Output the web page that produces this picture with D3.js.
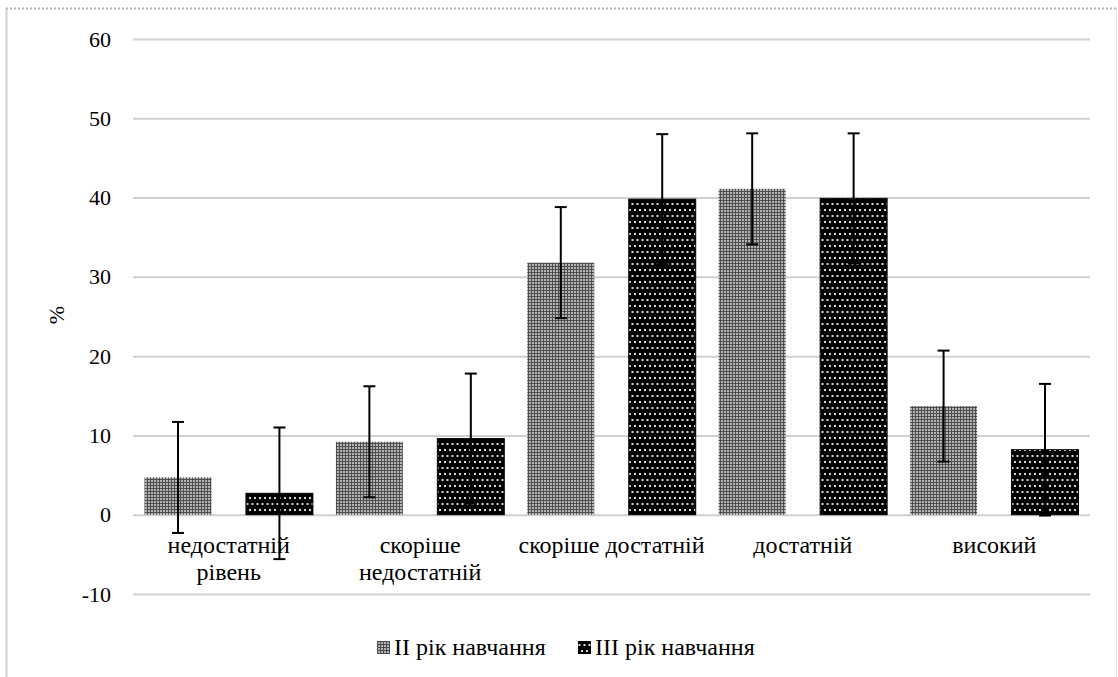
<!DOCTYPE html>
<html>
<head>
<meta charset="utf-8">
<script src="https://cdn.jsdelivr.net/npm/d3@7"></script>
<style>
  body { margin: 0; background: #fff; }
  svg { display: block; }
  .grid line { stroke: #d0d0d0; stroke-width: 2px; }
  .grid .domain { display: none; }
</style>
</head>
<body>
<div id="chart"></div>
<script>
var categories = [["недостатній", "рівень"], ["скоріше", "недостатній"], ["скоріше достатній"], ["достатній"], ["високий"]];
var seriesNames = ["II рік навчання", "III рік навчання"];
var valuesII  = [4.7, 9.2, 31.8, 41.1, 13.7];
var valuesIII = [2.7, 9.6, 39.8, 39.9, 8.2];
var errII  = [7, 7, 7, 7, 7];
var errIII = [8.3, 8.2, 8.2, 8.2, 8.3];
var yTicks = [-10, 0, 10, 20, 30, 40, 50, 60];

var fontFam = "'Liberation Serif', 'DejaVu Serif', serif";

var margin = {top: 39, right: 28, bottom: 83, left: 133},
  totalW = 1118, totalH = 677,
  width = totalW - margin.left - margin.right,
  height = totalH - margin.top - margin.bottom;

var svg = d3.select("#chart").append("svg")
  .attr("width", totalW)
  .attr("height", totalH)
  .attr("font-family", fontFam);

// outer frame
svg.append("line").attr("x1", 6.5).attr("x2", 6.5).attr("y1", 8).attr("y2", totalH)
  .style("stroke", "#cfcfcf").style("stroke-width", "2px");
svg.append("line").attr("x1", 1116.5).attr("x2", 1116.5).attr("y1", 8).attr("y2", totalH)
  .style("stroke", "#e4e4e4").style("stroke-width", "1px");
svg.append("line").attr("x1", 6).attr("x2", 1117).attr("y1", 8.5).attr("y2", 8.5)
  .style("stroke", "#b8b8b8").style("stroke-width", "2px").style("stroke-dasharray", "2,2");

var defs = svg.append("defs");

// mid-gray grid pattern for II
var p1 = defs.append("pattern")
  .attr("id", "patII").attr("patternUnits", "userSpaceOnUse")
  .attr("width", 3).attr("height", 3);
p1.append("rect").attr("width", 3).attr("height", 3).attr("fill", "#4e4e4e");
p1.append("rect").attr("x", 0).attr("y", 0).attr("width", 2).attr("height", 2).attr("fill", "#b4b4b4");

// black with white dots for III
var p2 = defs.append("pattern")
  .attr("id", "patIII").attr("patternUnits", "userSpaceOnUse")
  .attr("width", 5).attr("height", 12);
p2.append("rect").attr("width", 5).attr("height", 12).attr("fill", "#000");
p2.append("rect").attr("x", 1).attr("y", 2).attr("width", 2).attr("height", 2).attr("fill", "#d8d8d8");
p2.append("rect").attr("x", 3.5).attr("y", 8).attr("width", 2).attr("height", 2).attr("fill", "#d8d8d8");
p2.append("rect").attr("x", -1.5).attr("y", 8).attr("width", 2).attr("height", 2).attr("fill", "#d8d8d8");

var g = svg.append("g")
  .attr("transform", "translate(" + margin.left + "," + margin.top + ")");

var x0 = d3.scaleBand()
  .domain(d3.range(categories.length))
  .range([0, width])
  .paddingInner(0)
  .paddingOuter(0);

var x1 = d3.scaleBand()
  .domain([0, 1])
  .range([11.5, x0.bandwidth() - 11.5])
  .paddingInner(0.34);

var y = d3.scaleLinear()
  .domain([-10, 60])
  .range([height, 0]);

g.append("g")
  .attr("class", "grid")
  .call(d3.axisLeft(y).tickValues(yTicks).tickSize(-width).tickFormat(""));

var yAxis = g.append("g")
  .call(d3.axisLeft(y).tickValues(yTicks).tickSize(0).tickPadding(22)
    .tickFormat(function(d) { return String(d); }));
yAxis.select(".domain").remove();
yAxis.attr("font-family", fontFam).attr("font-size", null);
yAxis.selectAll("text")
  .style("font-size", "22px")
  .style("fill", "#000");

svg.append("text")
  .attr("transform", "translate(64,315) rotate(-90)")
  .attr("text-anchor", "middle")
  .style("font-size", "22px")
  .text("%");

var series = [
  {name: seriesNames[0], values: valuesII, err: errII, fill: "url(#patII)", stroke: "none"},
  {name: seriesNames[1], values: valuesIII, err: errIII, fill: "url(#patIII)", stroke: "#000"}
];

series.forEach(function(s, si) {
  var grp = g.append("g").attr("class", "series-" + si);
  grp.selectAll("rect")
    .data(s.values)
    .enter().append("rect")
    .attr("x", function(d, i) { return x0(i) + x1(si); })
    .attr("y", function(d) { return y(Math.max(d, 0)); })
    .attr("width", x1.bandwidth())
    .attr("height", function(d) { return Math.abs(y(d) - y(0)); })
    .attr("fill", s.fill)
    .attr("stroke", s.stroke)
    .attr("stroke-width", 1);
});

// error bars
series.forEach(function(s, si) {
  var eb = g.append("g").attr("class", "err-" + si);
  s.values.forEach(function(v, i) {
    var cx = x0(i) + x1(si) + x1.bandwidth() / 2;
    var lo = y(v - s.err[i]), hi = y(v + s.err[i]);
    eb.append("line").attr("x1", cx).attr("x2", cx).attr("y1", lo).attr("y2", hi)
      .style("stroke", "#000").style("stroke-width", "2px");
    eb.append("line").attr("x1", cx - 6).attr("x2", cx + 6).attr("y1", hi).attr("y2", hi)
      .style("stroke", "#000").style("stroke-width", "2px");
    eb.append("line").attr("x1", cx - 6).attr("x2", cx + 6).attr("y1", lo).attr("y2", lo)
      .style("stroke", "#000").style("stroke-width", "2px");
  });
});

// category labels
var catLabels = g.selectAll(".cat")
  .data(categories)
  .enter().append("text")
  .attr("class", "cat")
  .attr("text-anchor", "middle")
  .style("font-size", "24px")
  .attr("transform", function(d, i) {
    return "translate(" + (x0(i) + x0.bandwidth() / 2) + "," + (y(0) + 38) + ")";
  });
catLabels.selectAll("tspan")
  .data(function(d) { return d; })
  .enter().append("tspan")
  .attr("x", 0)
  .attr("dy", function(d, i) { return i === 0 ? 0 : 27; })
  .text(function(d) { return d; });

// legend
var legend = svg.append("g").attr("class", "legend");
var legX = [377, 578];
series.forEach(function(s, si) {
  legend.append("rect")
    .attr("x", legX[si]).attr("y", 641)
    .attr("width", 13).attr("height", 13)
    .attr("fill", s.fill);
  legend.append("text")
    .attr("x", legX[si] + 17).attr("y", 655)
    .style("font-size", "24px")
    .text(s.name);
});
</script>
</body>
</html>
